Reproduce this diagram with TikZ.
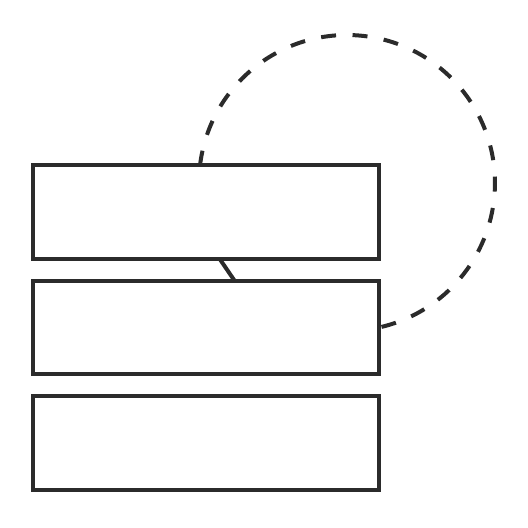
\documentclass[tikz,border=0pt]{standalone}
\definecolor{edgegray}{RGB}{43, 43, 43}
\usepackage{tikz}
\usetikzlibrary{positioning, calc}

\begin{document}
\begin{tikzpicture}[
    layerbox/.style={draw=edgegray, line width=0.08cm, minimum width=6.93cm, minimum height=1.87cm, outer sep=0pt},
    node distance=0.44cm
  ]
  \useasboundingbox (0,0) rectangle (10.56,10.56);

  % Stacked boxes
  \node[layerbox] (top) at (4.115, 6.315) {};
  \node[layerbox, below=of top] (mid) {};
  \node[layerbox, below=of mid] (low) {};

  % Link between top and middle
  \draw[line width=0.08cm, edgegray] ([xshift=0.28cm]top.south) -- ([xshift=0.58cm]mid.north);

  % Loop back round
  \draw[line width=0.08cm, edgegray, dash pattern=on 0.3cm off 0.33cm] ([xshift=-0.115cm]top.north)
    arc[start angle=173.2, end angle=-77.6, radius=2.96cm];
\end{tikzpicture}
\end{document}
